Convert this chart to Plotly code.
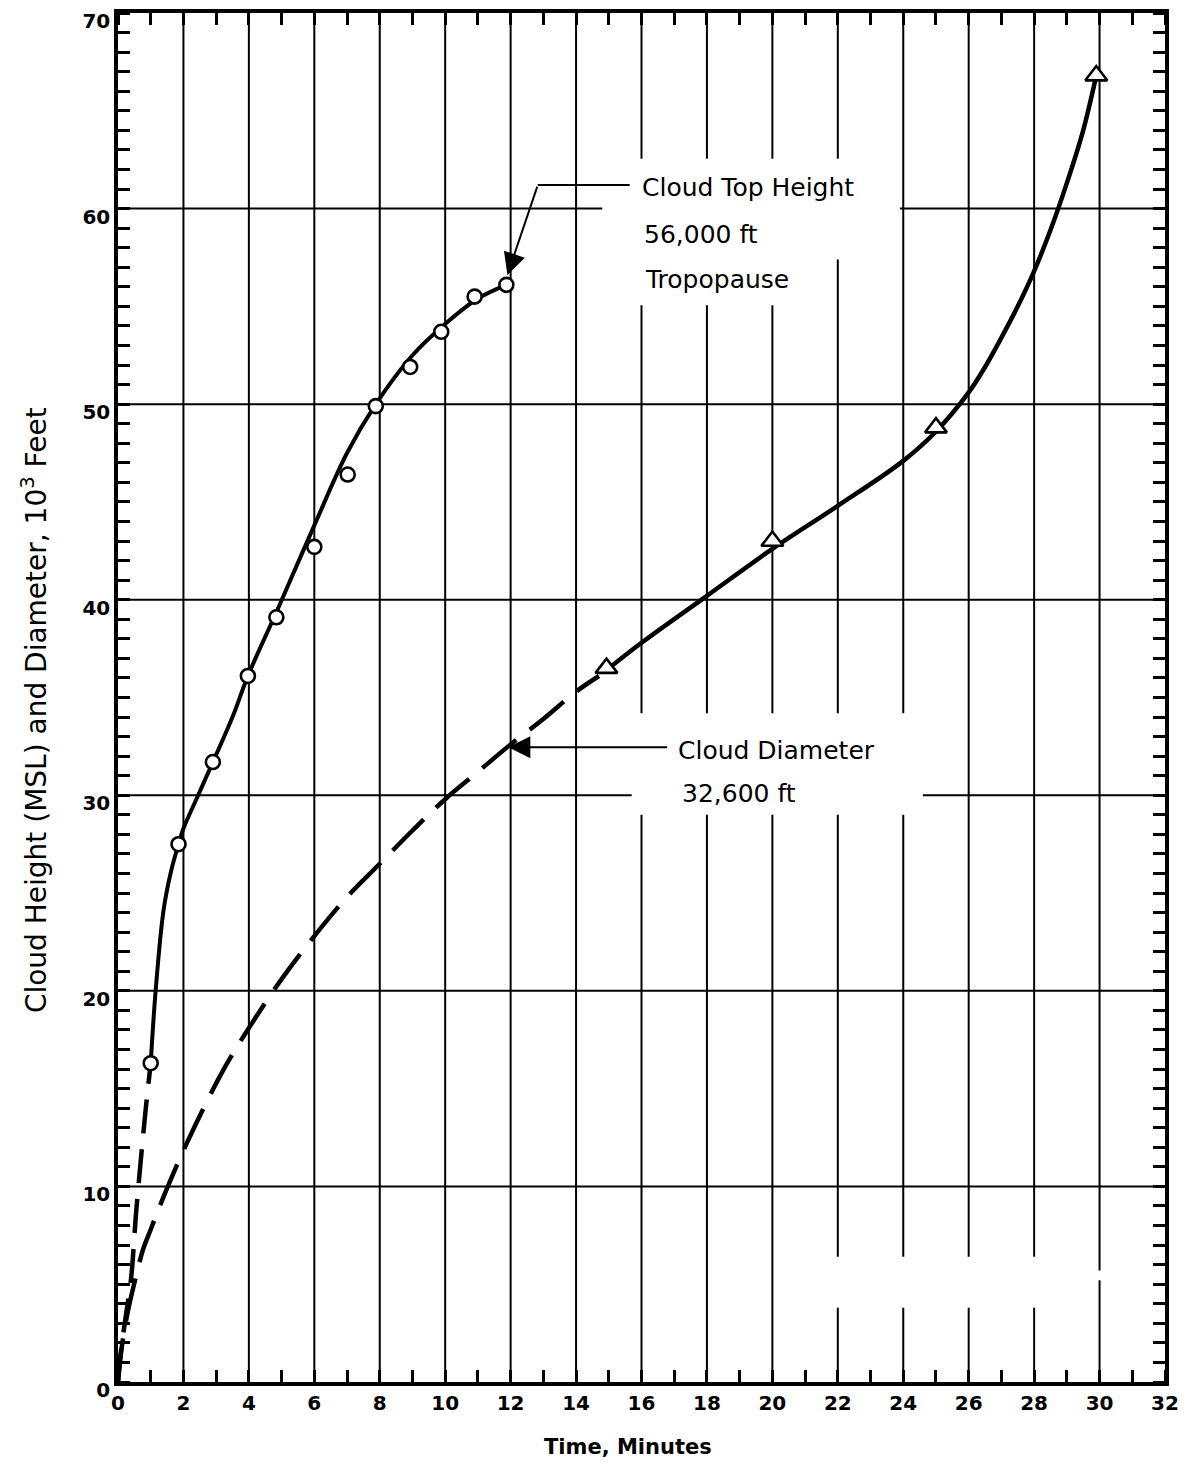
import plotly.graph_objects as go

# ---------------- data ----------------
# Cloud top height observations (open circles), time in minutes, height in 10^3 ft
top_t = [1.0, 1.85, 2.9, 3.97, 4.84, 6.0, 7.02, 7.88, 8.93, 9.88, 10.9, 11.87]
top_h = [16.3, 27.5, 31.7, 36.1, 39.1, 42.7, 46.4, 49.9, 51.9, 53.7, 55.5, 56.1]

# Faired cloud-top curve (solid)
top_curve_t = [1.0, 1.15, 1.39, 1.62, 1.85, 2.0, 2.45, 2.9, 3.5, 3.97, 4.85, 6.0, 7.0, 7.88, 9.0, 10.0, 11.0, 11.87]
top_curve_h = [16.3, 20.0, 24.1, 26.1, 27.5, 28.3, 30.0, 31.7, 34.0, 36.1, 39.4, 43.8, 47.5, 50.0, 52.5, 54.1, 55.4, 56.1]

# Extrapolated cloud-top curve toward origin (dashed)
top_dash_t = [0.0, 0.1, 0.25, 0.4, 0.55, 0.7, 0.85, 1.0]
top_dash_h = [0.0, 1.7, 3.5, 5.3, 8.6, 11.4, 14.0, 16.3]

# Cloud diameter observations (open triangles)
dia_t = [14.93, 20.0, 25.0, 29.9]
dia_d = [36.5, 43.0, 48.8, 66.8]

# Faired cloud-diameter curve (solid)
dia_curve_t = [14.93, 16.0, 18.0, 20.0, 22.0, 24.0, 25.0, 26.0, 26.5, 27.0, 27.5, 28.0, 28.5, 29.0, 29.5, 29.9]
dia_curve_d = [36.4, 37.8, 40.2, 42.6, 44.8, 47.1, 48.6, 50.6, 51.9, 53.4, 55.0, 56.8, 58.9, 61.3, 64.0, 66.8]

# Extrapolated cloud-diameter curve (dashed)
dia_dash_t = [0.0, 0.1, 0.3, 0.55, 0.77, 1.0, 1.4, 2.1, 3.2, 4.0, 5.0, 6.0, 7.0, 8.0, 9.0, 10.0, 11.0, 12.0, 13.0, 14.0, 14.7]
dia_dash_d = [0.0, 1.6, 3.6, 5.4, 6.8, 7.8, 9.5, 12.2, 15.9, 18.1, 20.6, 22.8, 24.8, 26.5, 28.2, 29.8, 31.2, 32.6, 33.9, 35.3, 36.1]

x_ticks = list(range(0, 33, 2))
y_ticks = list(range(0, 71, 10))

# ---------------- layout helpers: grid lines with the gaps seen on the chart ----------------
X_MAX, Y_MAX = 32, 70
v_gaps = {
    16: [(55.06, 62.55), (29.0, 34.2)],
    18: [(55.06, 62.55), (29.0, 34.2)],
    20: [(55.06, 62.55), (29.0, 34.2)],
    22: [(57.4, 62.55), (29.0, 34.2), (3.8, 6.4)],
    24: [(29.0, 34.2), (3.8, 6.4)],
    26: [(3.8, 6.4)],
    28: [(3.8, 6.4)],
    30: [(5.2, 5.7)],
}
h_gaps = {
    60: [(14.8, 23.9)],
    30: [(15.7, 24.6)],
}


def segments(lo, hi, gaps):
    segs, start = [], lo
    for a, b in sorted(gaps):
        segs.append((start, a))
        start = b
    segs.append((start, hi))
    return segs


gx, gy = [], []
for xv in x_ticks[1:-1]:
    for a, b in segments(0, Y_MAX, v_gaps.get(xv, [])):
        gx += [xv, xv, None]
        gy += [a, b, None]
for yv in y_ticks[1:-1]:
    for a, b in segments(0, X_MAX, h_gaps.get(yv, [])):
        gx += [a, b, None]
        gy += [yv, yv, None]

fig = go.Figure()

fig.add_trace(go.Scatter(x=gx, y=gy, mode="lines", line=dict(color="black", width=2),
                         hoverinfo="skip", showlegend=False))

# dashed extrapolations
fig.add_trace(go.Scatter(x=top_dash_t, y=top_dash_h, mode="lines",
                         line=dict(color="black", width=4.5, dash="34px,16px", shape="spline"),
                         showlegend=False))
fig.add_trace(go.Scatter(x=dia_dash_t, y=dia_dash_d, mode="lines",
                         line=dict(color="black", width=4.5, dash="44px,17px", shape="spline"),
                         showlegend=False))
# solid curves
fig.add_trace(go.Scatter(x=top_curve_t, y=top_curve_h, mode="lines",
                         line=dict(color="black", width=4, shape="spline"), showlegend=False))
fig.add_trace(go.Scatter(x=dia_curve_t, y=dia_curve_d, mode="lines",
                         line=dict(color="black", width=4.5, shape="spline"), showlegend=False))
# markers
fig.add_trace(go.Scatter(x=top_t, y=top_h, mode="markers",
                         marker=dict(symbol="circle", size=14, color="white",
                                     line=dict(color="black", width=2.6)),
                         showlegend=False))
fig.add_trace(go.Scatter(x=dia_t, y=dia_d, mode="markers",
                         marker=dict(symbol="triangle-up", size=19, color="white",
                                     line=dict(color="black", width=2.6)),
                         showlegend=False))

# ---------------- annotation leaders ----------------
fig.add_shape(type="line", x0=12.83, y0=61.2, x1=15.64, y1=61.2, xref="x", yref="y",
              line=dict(color="black", width=2))
fig.add_annotation(x=11.9, y=56.6, ax=12.83, ay=61.2, axref="x", ayref="y", xref="x", yref="y",
                   text="", showarrow=True, arrowhead=2, arrowsize=2.2, arrowwidth=2,
                   arrowcolor="black", standoff=0)
fig.add_annotation(x=11.93, y=32.46, ax=16.83, ay=32.46, axref="x", ayref="y", xref="x", yref="y",
                   text="", showarrow=True, arrowhead=2, arrowsize=2.2, arrowwidth=2,
                   arrowcolor="black", standoff=0)

lab_font = dict(family="DejaVu Sans", size=25, color="black")
for txt, xv, yv in [("Cloud Top Height", 15.95, 61.1), ("56,000 ft", 16.0, 58.65),
                    ("Tropopause", 16.06, 56.35), ("Cloud Diameter", 17.04, 32.3),
                    ("32,600 ft", 17.17, 30.08)]:
    fig.add_annotation(x=xv, y=yv, xref="x", yref="y", text=txt, showarrow=False,
                       xanchor="left", yanchor="middle", font=lab_font)

# axis titles
fig.add_annotation(x=0.487, y=-0.0475, xref="paper", yref="paper", text="<b>Time, Minutes</b>",
                   showarrow=False, xanchor="center", yanchor="middle",
                   font=dict(family="DejaVu Sans", size=21, color="black"))
fig.add_annotation(x=-0.079, y=0.491, xref="paper", yref="paper",
                   text="Cloud Height (MSL) and Diameter, 10<sup>3</sup> Feet",
                   textangle=-90, showarrow=False, xanchor="center", yanchor="middle",
                   font=dict(family="DejaVu Sans", size=28, color="black"))

tick_font = dict(family="DejaVu Sans", size=20, color="black", weight="bold")
fig.update_xaxes(range=[0, X_MAX], tickvals=x_ticks, ticktext=[str(v) for v in x_ticks],
                 showgrid=False, zeroline=False, showline=True, linewidth=3.5, linecolor="black",
                 mirror="ticks", ticks="", tickfont=tick_font, automargin=False,
                 ticklabeloverflow="allow",
                 minor=dict(dtick=1, tick0=0, ticks="inside", ticklen=12, tickwidth=2.5,
                            tickcolor="black", showgrid=False))
fig.update_yaxes(range=[0, Y_MAX], tickvals=y_ticks, ticktext=[str(v) for v in y_ticks],
                 showgrid=False, zeroline=False, showline=True, linewidth=3.5, linecolor="black",
                 mirror="ticks", ticks="", tickfont=tick_font, automargin=False,
                 ticklabeloverflow="allow", ticklabelshift=8,
                 minor=dict(dtick=1, tick0=0, ticks="inside", ticklen=12, tickwidth=2.5,
                            tickcolor="black", showgrid=False))

fig.update_layout(width=1193, height=1470, margin=dict(l=110, r=36, t=5, b=96),
                  paper_bgcolor="white", plot_bgcolor="white", showlegend=False)

fig.write_html("out.html")
